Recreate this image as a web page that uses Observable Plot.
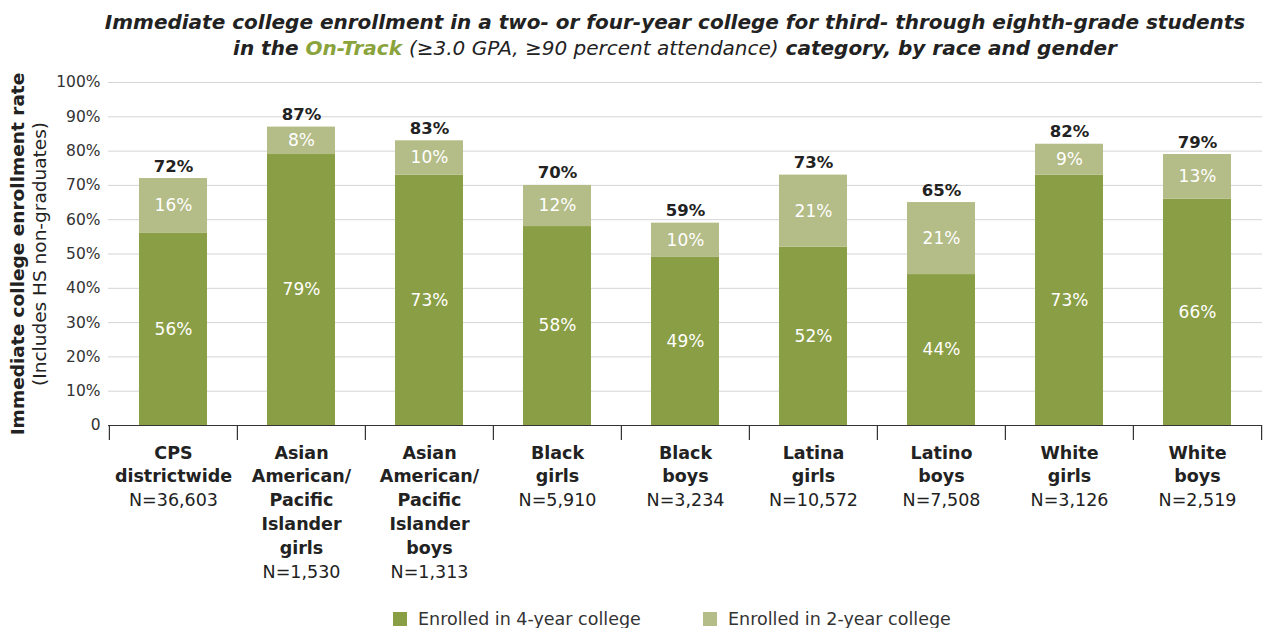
<!DOCTYPE html>
<html><head><meta charset="utf-8">
<script src="https://cdn.jsdelivr.net/npm/d3@7"></script>
<script src="https://cdn.jsdelivr.net/npm/@observablehq/plot@0.6"></script>
<style>
body{margin:0;background:#fff;font-family:"DejaVu Sans",sans-serif;color:#222}
#title{height:66px;box-sizing:border-box;padding-top:9px;padding-left:85px;text-align:center;font-size:20px;line-height:26px;font-style:italic;font-weight:700;color:#222;white-space:nowrap}
#title .g{color:#8aa33c}
#title .n{font-weight:400}
#chart svg{display:block}
#legend{display:flex;align-items:center;height:26px;margin-top:6px;padding-left:393px;font-size:17.5px;color:#333}
#legend .item{display:flex;align-items:center;width:310px}
#legend .sw{width:14px;height:14px;margin-right:11px}
</style></head>
<body>
<div id="title">Immediate college enrollment in a two- or four-year college for third- through eighth-grade students<br>in the <span class="g">On-Track</span> <span class="n">(≥3.0 GPA, ≥90 percent attendance)</span> category, by race and gender</div>
<div id="chart"></div>
<div id="legend"></div>
<script>
const categories = ["CPS\ndistrictwide","Asian\nAmerican/\nPacific\nIslander\ngirls","Asian\nAmerican/\nPacific\nIslander\nboys","Black\ngirls","Black\nboys","Latina\ngirls","Latino\nboys","White\ngirls","White\nboys"];
const nLabels = ["N=36,603","N=1,530","N=1,313","N=5,910","N=3,234","N=10,572","N=7,508","N=3,126","N=2,519"];
const fourYear = [56,79,73,58,49,52,44,73,66];
const twoYear = [16,8,10,12,10,21,21,9,13];
const totals = [72,87,83,70,59,73,65,82,79];
const types = ["Enrolled in 4-year college","Enrolled in 2-year college"];
const colors = ["#8a9e45","#b4bc87"];
const yTicks = [0,10,20,30,40,50,60,70,80,90,100];

const rows = [
  ...categories.map((c,i)=>({cat:c,type:types[0],value:fourYear[i]})),
  ...categories.map((c,i)=>({cat:c,type:types[1],value:twoYear[i]}))
];
const W = 1265, mL = 108, mR = 3;
const step = (W - mL - mR) / categories.length;

const plot = Plot.plot({
  width: W, height: 534,
  marginTop: 16, marginBottom: 175, marginLeft: mL, marginRight: mR,
  style: {fontFamily: "DejaVu Sans, sans-serif", fontSize: "16px", color: "#222", background: "#fff"},
  x: {type: "band", domain: categories, paddingInner: 0.47, paddingOuter: 0.235, axis: null},
  y: {domain: [0, 100], axis: null},
  color: {domain: types, range: colors},
  marks: [
    Plot.gridY(yTicks.filter(d => d > 0), {stroke: "#d4d4d4", strokeOpacity: 1}),
    Plot.axisY(yTicks, {tickSize: 0, tickPadding: 8, fontSize: 15.5, color: "#333", label: null, tickFormat: d => d === 0 ? "0" : d + "%"}),
    Plot.barY(rows, {x: "cat", y: "value", fill: "type"}),
    Plot.text(rows, Plot.stackY({x: "cat", y: "value", z: "type", text: d => d.value + "%", fill: "white", fontSize: 17})),
    Plot.text(categories, {x: d => d, y: (d, i) => totals[i], text: (d, i) => totals[i] + "%", lineAnchor: "bottom", dy: -7, fontWeight: 700, fontSize: 16.5, fill: "#222"}),
    Plot.ruleY([0], {stroke: "#333", strokeWidth: 1.2}),
    Plot.ruleX(categories, {x: d => d, y1: 0, y2: -4.4, dx: -step / 2, stroke: "#333", strokeWidth: 1.2}),
    Plot.ruleX(categories.slice(-1), {x: d => d, y1: 0, y2: -4.4, dx: step / 2, stroke: "#333", strokeWidth: 1.2}),
    Plot.text(categories, {x: d => d, y: 0, text: (d, i) => d + "\n" + nLabels[i], lineAnchor: "top", dy: 16, fontSize: 17.5, fontWeight: 700, lineHeight: 1.37, fill: "#222"}),
    Plot.text(["Immediate college enrollment rate"], {frameAnchor: "left", textAnchor: "middle", rotate: -90, dx: -90, fontSize: 18.5, fontWeight: 700, fill: "#222"}),
    Plot.text(["(Includes HS non-graduates)"], {frameAnchor: "left", textAnchor: "middle", rotate: -90, dx: -68, fontSize: 18.5, fill: "#222"})
  ]
});
d3.select(plot).selectAll("tspan").filter(function(){ return this.textContent.startsWith("N="); }).attr("font-weight", 400);
document.getElementById("chart").appendChild(plot);

const leg = d3.select("#legend");
types.forEach((t, i) => {
  const it = leg.append("div").attr("class", "item");
  it.append("div").attr("class", "sw").style("background", colors[i]);
  it.append("span").text(t);
});
</script>
</body></html>
